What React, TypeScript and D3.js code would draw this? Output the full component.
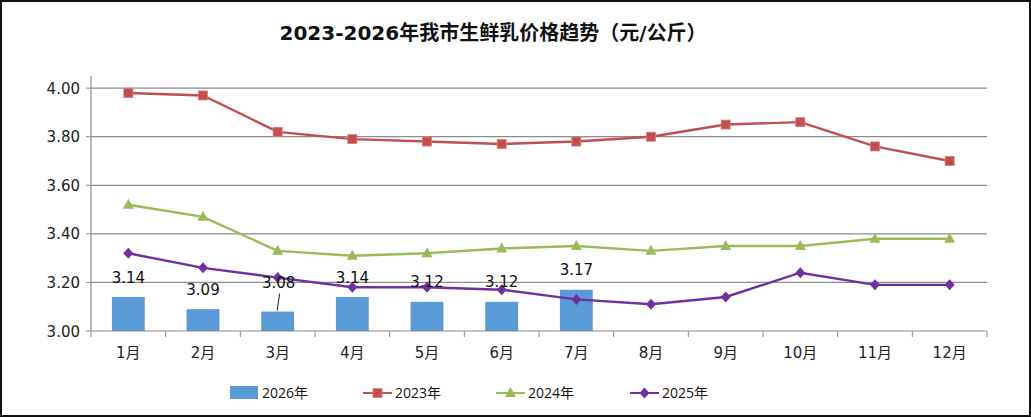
import * as d3 from 'd3';
import React, { ReactElement } from 'react';

const WIDTH = 1031;
const HEIGHT = 417;

const months = ['1月', '2月', '3月', '4月', '5月', '6月', '7月', '8月', '9月', '10月', '11月', '12月'];
const yTicks = [3.0, 3.2, 3.4, 3.6, 3.8, 4.0];

const price2026 = [3.14, 3.09, 3.08, 3.14, 3.12, 3.12, 3.17];
const price2023 = [3.98, 3.97, 3.82, 3.79, 3.78, 3.77, 3.78, 3.8, 3.85, 3.86, 3.76, 3.7];
const price2024 = [3.52, 3.47, 3.33, 3.31, 3.32, 3.34, 3.35, 3.33, 3.35, 3.35, 3.38, 3.38];
const price2025 = [3.32, 3.26, 3.22, 3.18, 3.18, 3.17, 3.13, 3.11, 3.14, 3.24, 3.19, 3.19];

const FONT = '"DejaVu Sans", "Noto Sans CJK SC", sans-serif';
const LEGEND_FONT = '"Open Sans", "Noto Sans CJK SC", sans-serif';
const BLUE = '#5b9bd5';
const RED = '#c0504d';
const GREEN = '#9bbb59';
const PURPLE = '#7030a0';
const GRID = '#8c8c8c';

// the 3月 label was dragged up in the source chart, with a leader line
const MOVED_LABEL = 2;

const margin = { left: 91, right: 44, top: 76, bottom: 86 };

const Marker = ({ kind, x, y }: { kind: string; x: number; y: number }): ReactElement => {
  if (kind === 'square') {
    return <rect x={x - 4.5} y={y - 4.5} width={9} height={9} fill={RED} stroke="#e07a77" strokeWidth={0.8} />;
  }
  if (kind === 'triangle') {
    return <path d={`M${x},${y - 6}L${x + 5.5},${y + 4}L${x - 5.5},${y + 4}Z`} fill={GREEN} />;
  }
  return <path d={`M${x},${y - 5.5}L${x + 5},${y}L${x},${y + 5.5}L${x - 5},${y}Z`} fill={PURPLE} />;
};

const App = (): ReactElement => {
  const x = d3
    .scaleBand<string>()
    .domain(months)
    .range([margin.left, WIDTH - margin.right])
    .paddingInner(0)
    .paddingOuter(0);
  const y = d3
    .scaleLinear()
    .domain([3, 4.05])
    .range([HEIGHT - margin.bottom, margin.top]);

  const cx = (i: number) => (x(months[i]) as number) + x.bandwidth() / 2;
  const barW = x.bandwidth() * 0.44;

  const line = d3
    .line<number>()
    .x((_, i) => cx(i))
    .y((d) => y(d));

  const series = [
    { data: price2023, color: RED, kind: 'square' },
    { data: price2024, color: GREEN, kind: 'triangle' },
    { data: price2025, color: PURPLE, kind: 'diamond' },
  ];

  const legend = [
    { label: '2026年', kind: 'bar', color: BLUE, x: 230 },
    { label: '2023年', kind: 'square', color: RED, x: 363 },
    { label: '2024年', kind: 'triangle', color: GREEN, x: 496 },
    { label: '2025年', kind: 'diamond', color: PURPLE, x: 630 },
  ];

  const x0 = margin.left;
  const x1 = WIDTH - margin.right;
  const yBase = y(3);

  return (
    <svg
      width={WIDTH}
      height={HEIGHT}
      style={{ position: 'absolute', left: 0, top: 0, background: '#fff' }}
      fontFamily={FONT}
    >
      <rect x={1} y={1} width={WIDTH - 2} height={HEIGHT - 2} fill="#fff" stroke="#111" strokeWidth={2} />

      <text x={493} y={40} textAnchor="middle" fontSize={20} fontWeight="bold" fill="#111">
        2023-2026年我市生鲜乳价格趋势（元/公斤）
      </text>

      {/* grid + y axis */}
      {yTicks.map((t) => (
        <g key={t}>
          {t > 3 && <line x1={x0} x2={x1} y1={y(t)} y2={y(t)} stroke={GRID} strokeWidth={1.2} />}
          <line x1={x0 - 5} x2={x0} y1={y(t)} y2={y(t)} stroke={GRID} />
          <text x={x0 - 11} y={y(t) + 5.5} textAnchor="end" fontSize={15} fill="#222">
            {t.toFixed(2)}
          </text>
        </g>
      ))}
      <line x1={x0} x2={x0} y1={margin.top} y2={yBase} stroke={GRID} strokeWidth={1.2} />

      {/* bars */}
      {price2026.map((v, i) => (
        <rect key={i} x={cx(i) - barW / 2} y={y(v)} width={barW} height={yBase - y(v)} fill={BLUE} />
      ))}

      {/* x axis */}
      <line x1={x0} x2={x1} y1={yBase} y2={yBase} stroke={GRID} strokeWidth={1.2} />
      {months.map((m, i) => (
        <g key={m}>
          <line x1={x(m) as number} x2={x(m) as number} y1={yBase} y2={yBase + 6} stroke={GRID} />
          <text x={cx(i)} y={yBase + 27} textAnchor="middle" fontSize={15} fill="#222">
            {m}
          </text>
        </g>
      ))}
      <line x1={x1} x2={x1} y1={yBase} y2={yBase + 6} stroke={GRID} />

      {/* lines */}
      {series.map((s) => (
        <g key={s.kind}>
          <path d={line(s.data) as string} fill="none" stroke={s.color} strokeWidth={2.4} />
          {s.data.map((v, i) => (
            <Marker key={i} kind={s.kind} x={cx(i)} y={y(v)} />
          ))}
        </g>
      ))}

      {/* bar labels */}
      {price2026.map((v, i) => {
        const moved = i === MOVED_LABEL;
        const ty = y(v) - (moved ? 24 : 14.5);
        return (
          <g key={i}>
            <text x={cx(i) + (moved ? 1 : 0)} y={ty} textAnchor="middle" fontSize={15} fill="#111">
              {v.toFixed(2)}
            </text>
            {moved && (
              <line x1={cx(i) + 2} y1={ty + 6} x2={cx(i) - 0.5} y2={y(v) - 1} stroke="#222" strokeWidth={1} />
            )}
          </g>
        );
      })}

      {/* legend */}
      {legend.map((l) => (
        <g key={l.label}>
          {l.kind === 'bar' ? (
            <rect x={l.x} y={386} width={28} height={13} fill={l.color} />
          ) : (
            <g>
              <line x1={l.x} x2={l.x + 29} y1={393} y2={393} stroke={l.color} strokeWidth={2} />
              <Marker kind={l.kind} x={l.x + 14.5} y={393} />
            </g>
          )}
          <text x={l.x + 32} y={398} fontSize={14} fill="#111" fontFamily={LEGEND_FONT}>
            {l.label}
          </text>
        </g>
      ))}
    </svg>
  );
};

export default App;
